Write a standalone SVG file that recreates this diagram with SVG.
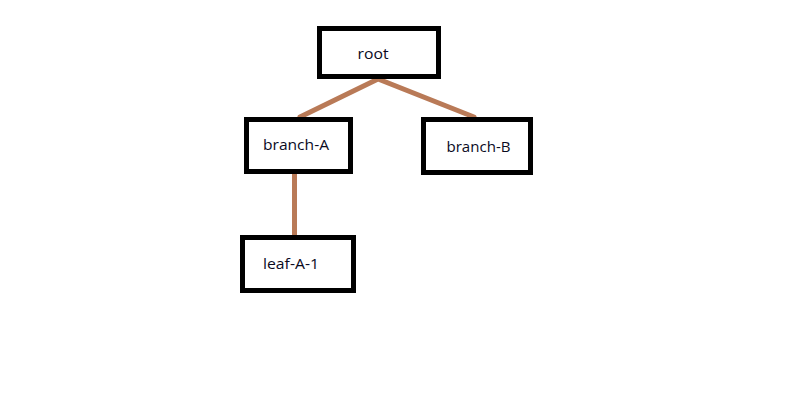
<svg xmlns="http://www.w3.org/2000/svg" width="786" height="413" viewBox="0 0 786 413">
<style>
.box{fill:#fff;stroke:#000;stroke-width:5}
.lbl{font-family:"Open Sans","Noto Sans","Liberation Sans",sans-serif;font-size:15px;fill:#0a0a1e}
.edge{stroke:#b97a57;stroke-width:5;stroke-linecap:round;fill:none}
</style>
<rect width="786" height="413" fill="#fff"/>
<g id="connectors">
<polyline class="edge" points="300,117 378,79 474,117"/>
<line class="edge" x1="294.5" y1="174" x2="294.5" y2="235"/>
</g>
<g id="root">
<rect class="box" x="319.5" y="28.5" width="119" height="48"/>
<text class="lbl" x="357.5" y="59" textLength="31" lengthAdjust="spacingAndGlyphs">root</text>
</g>
<g id="branch-A">
<rect class="box" x="246.5" y="119.5" width="104" height="52"/>
<text class="lbl" x="263" y="150" textLength="66" lengthAdjust="spacingAndGlyphs">branch-A</text>
</g>
<g id="branch-B">
<rect class="box" x="423.5" y="119.5" width="107" height="53"/>
<text class="lbl" x="446.5" y="151.5" textLength="64" lengthAdjust="spacingAndGlyphs">branch-B</text>
</g>
<g id="leaf-A-1">
<rect class="box" x="242.5" y="237.5" width="111" height="53"/>
<text class="lbl" x="263" y="269" textLength="56" lengthAdjust="spacingAndGlyphs">leaf-A-1</text>
</g>
</svg>
